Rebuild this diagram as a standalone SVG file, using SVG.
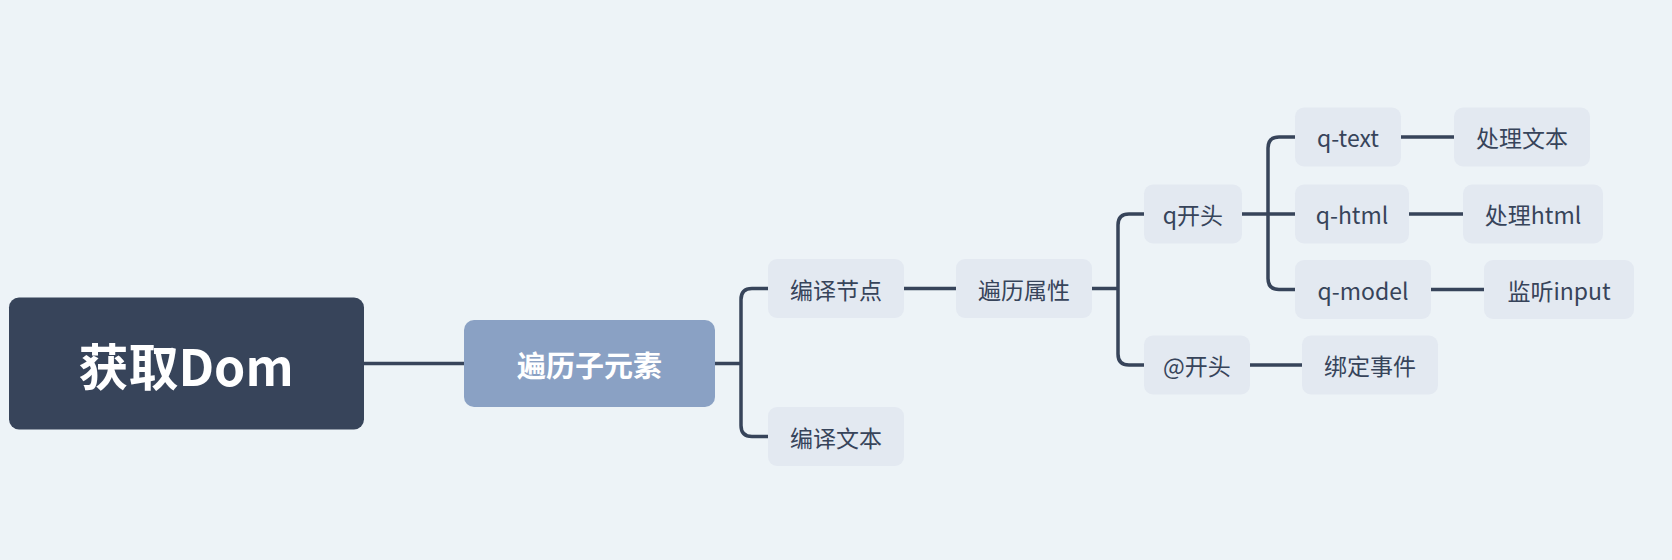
<svg xmlns="http://www.w3.org/2000/svg" width="1672" height="560" viewBox="0 0 1672 560">
<style>
text{font-family:"Noto Sans CJK SC","Noto Sans",sans-serif;dominant-baseline:central;text-anchor:middle}
.n rect{fill:#e3e9f1}
.n text{fill:#37445a;font-size:23px}
#conn path{fill:none;stroke:#37445a;stroke-width:3.5}
</style>
<rect width="1672" height="560" fill="#edf3f7"/>
<g id="conn">
<path d="M364 363.5H464"/>
<path d="M715 363.5H741M768 288.5H752Q741 288.5 741 299.5V425.5Q741 436.5 752 436.5H768"/>
<path d="M904 288.5H956"/>
<path d="M1092 288.5H1118M1144 214H1129Q1118 214 1118 225V354Q1118 365 1129 365H1144"/>
<path d="M1242 214H1295M1295 137H1279Q1268 137 1268 148V278.5Q1268 289.5 1279 289.5H1295"/>
<path d="M1401 137H1454M1409 214H1463M1431 289.5H1484M1250 365H1302"/>
</g>
<g id="root"><rect x="9" y="297.5" width="355" height="132" rx="10" fill="#37445a"/><text x="186" y="363.5" fill="#fff" font-size="50" font-weight="bold">获取Dom</text></g>
<g id="sub"><rect x="464" y="320" width="251" height="87" rx="10" fill="#8aa1c4"/><text x="589.5" y="363.5" fill="#fff" font-size="29" font-weight="bold">遍历子元素</text></g>
<g id="n1" class="n"><rect x="768" y="259" width="136" height="59" rx="9"/><text x="836" y="288.5">编译节点</text></g>
<g id="n2" class="n"><rect x="768" y="407" width="136" height="59" rx="9"/><text x="836" y="436.5">编译文本</text></g>
<g id="n3" class="n"><rect x="956" y="259" width="136" height="59" rx="9"/><text x="1024" y="288.5">遍历属性</text></g>
<g id="n4" class="n"><rect x="1144" y="184.5" width="98" height="59" rx="9"/><text x="1193" y="214">q开头</text></g>
<g id="n5" class="n"><rect x="1144" y="335.5" width="106" height="59" rx="9"/><text x="1197" y="365">@开头</text></g>
<g id="n6" class="n"><rect x="1295" y="107.5" width="106" height="59" rx="9"/><text x="1348" y="137">q-text</text></g>
<g id="n7" class="n"><rect x="1295" y="184.5" width="114" height="59" rx="9"/><text x="1352" y="214">q-html</text></g>
<g id="n8" class="n"><rect x="1295" y="260" width="136" height="59" rx="9"/><text x="1363" y="289.5">q-model</text></g>
<g id="n9" class="n"><rect x="1454" y="107.5" width="136" height="59" rx="9"/><text x="1522" y="137">处理文本</text></g>
<g id="n10" class="n"><rect x="1463" y="184.5" width="140" height="59" rx="9"/><text x="1533" y="214">处理html</text></g>
<g id="n11" class="n"><rect x="1484" y="260" width="150" height="59" rx="9"/><text x="1559" y="289.5">监听input</text></g>
<g id="n12" class="n"><rect x="1302" y="335.5" width="136" height="59" rx="9"/><text x="1370" y="365">绑定事件</text></g>
</svg>
